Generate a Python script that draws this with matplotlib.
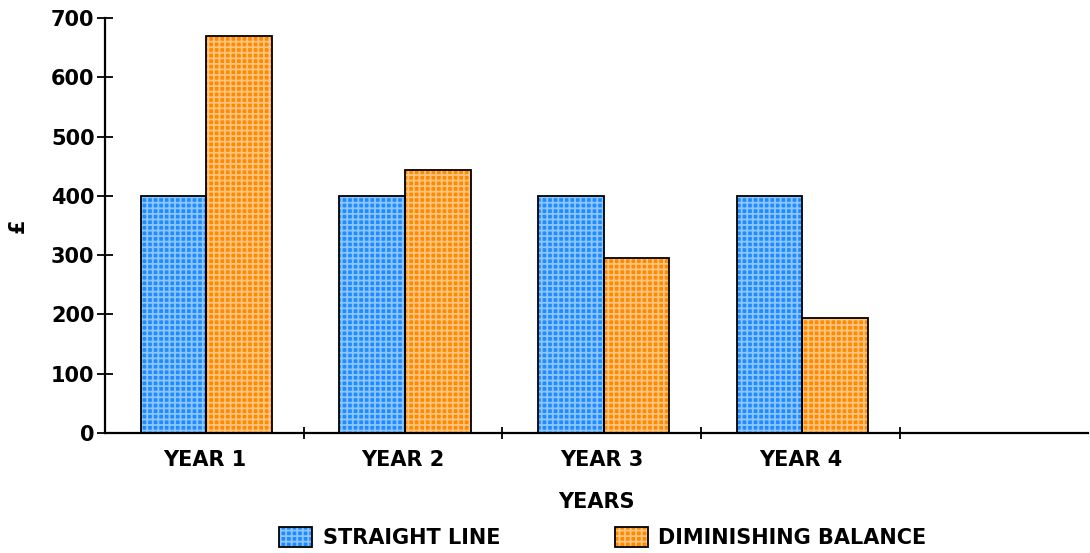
import matplotlib
matplotlib.use("Agg")
import matplotlib.pyplot as plt
from matplotlib.patches import Rectangle
from matplotlib.legend_handler import HandlerTuple

years = ["YEAR 1", "YEAR 2", "YEAR 3", "YEAR 4"]
straight_line = [400, 400, 400, 400]
diminishing = [670, 444, 295, 194]

blue = "#1e8cff"
orange = "#ff8a00"
grid_white = (1, 1, 1, 0.5)

plt.rcParams["font.family"] = ["DejaVu Sans"]
plt.rcParams["font.weight"] = "bold"
plt.rcParams["hatch.linewidth"] = 1.3

fig = plt.figure(figsize=(10.9, 5.53), dpi=100)
ax = fig.add_axes([0.0963, 0.217, 0.9017, 0.75])

x = list(range(len(years)))
w = 0.33
xs1 = [i - w / 2 + 0.01 for i in x]
xs2 = [i + w / 2 + 0.01 for i in x]

# colour + pale grid, then black outline on top
ax.bar(xs1, straight_line, w, color=blue, edgecolor=grid_white, hatch="+++", linewidth=0)
ax.bar(xs2, diminishing, w, color=orange, edgecolor=grid_white, hatch="+++", linewidth=0)
ax.bar(xs1, straight_line, w, fill=False, edgecolor="black", linewidth=1.3)
ax.bar(xs2, diminishing, w, fill=False, edgecolor="black", linewidth=1.3)

ax.set_xlim(-0.5, 4.446)
ax.set_ylim(0, 700)
ax.set_yticks(range(0, 701, 100))
ax.set_xticks(x)
ax.set_xticklabels(years)
ax.set_xticks([0.5, 1.5, 2.5, 3.5], minor=True)
ax.tick_params(axis="x", which="major", length=0, pad=12, labelsize=15)
ax.tick_params(axis="x", which="minor", direction="inout", length=9, width=1.3)
ax.tick_params(axis="y", direction="inout", length=11, width=1.3, labelsize=15, pad=2)

for s in ["top", "right"]:
    ax.spines[s].set_visible(False)
for s in ["left", "bottom"]:
    ax.spines[s].set_linewidth(1.6)

ax.set_xlabel("YEARS", fontsize=15, fontweight="bold", labelpad=16)
ax.set_ylabel("£", fontsize=15, fontweight="bold")
ax.yaxis.set_label_coords(-0.079, 0.5)

h1 = (Rectangle((0, 0), 1, 1, facecolor=blue, edgecolor=grid_white, hatch="+++", linewidth=0),
      Rectangle((0, 0), 1, 1, fill=False, edgecolor="black", linewidth=1.3))
h2 = (Rectangle((0, 0), 1, 1, facecolor=orange, edgecolor=grid_white, hatch="+++", linewidth=0),
      Rectangle((0, 0), 1, 1, fill=False, edgecolor="black", linewidth=1.3))
fig.legend([h1, h2], ["STRAIGHT LINE", "DIMINISHING BALANCE"],
           handler_map={tuple: HandlerTuple(ndivide=1, pad=0)},
           loc="lower center", bbox_to_anchor=(0.553, -0.025), ncol=2, frameon=False,
           fontsize=15, handlelength=1.6, handleheight=1.1, handletextpad=0.5,
           columnspacing=5.5)

fig.savefig("out.png", dpi=100)
